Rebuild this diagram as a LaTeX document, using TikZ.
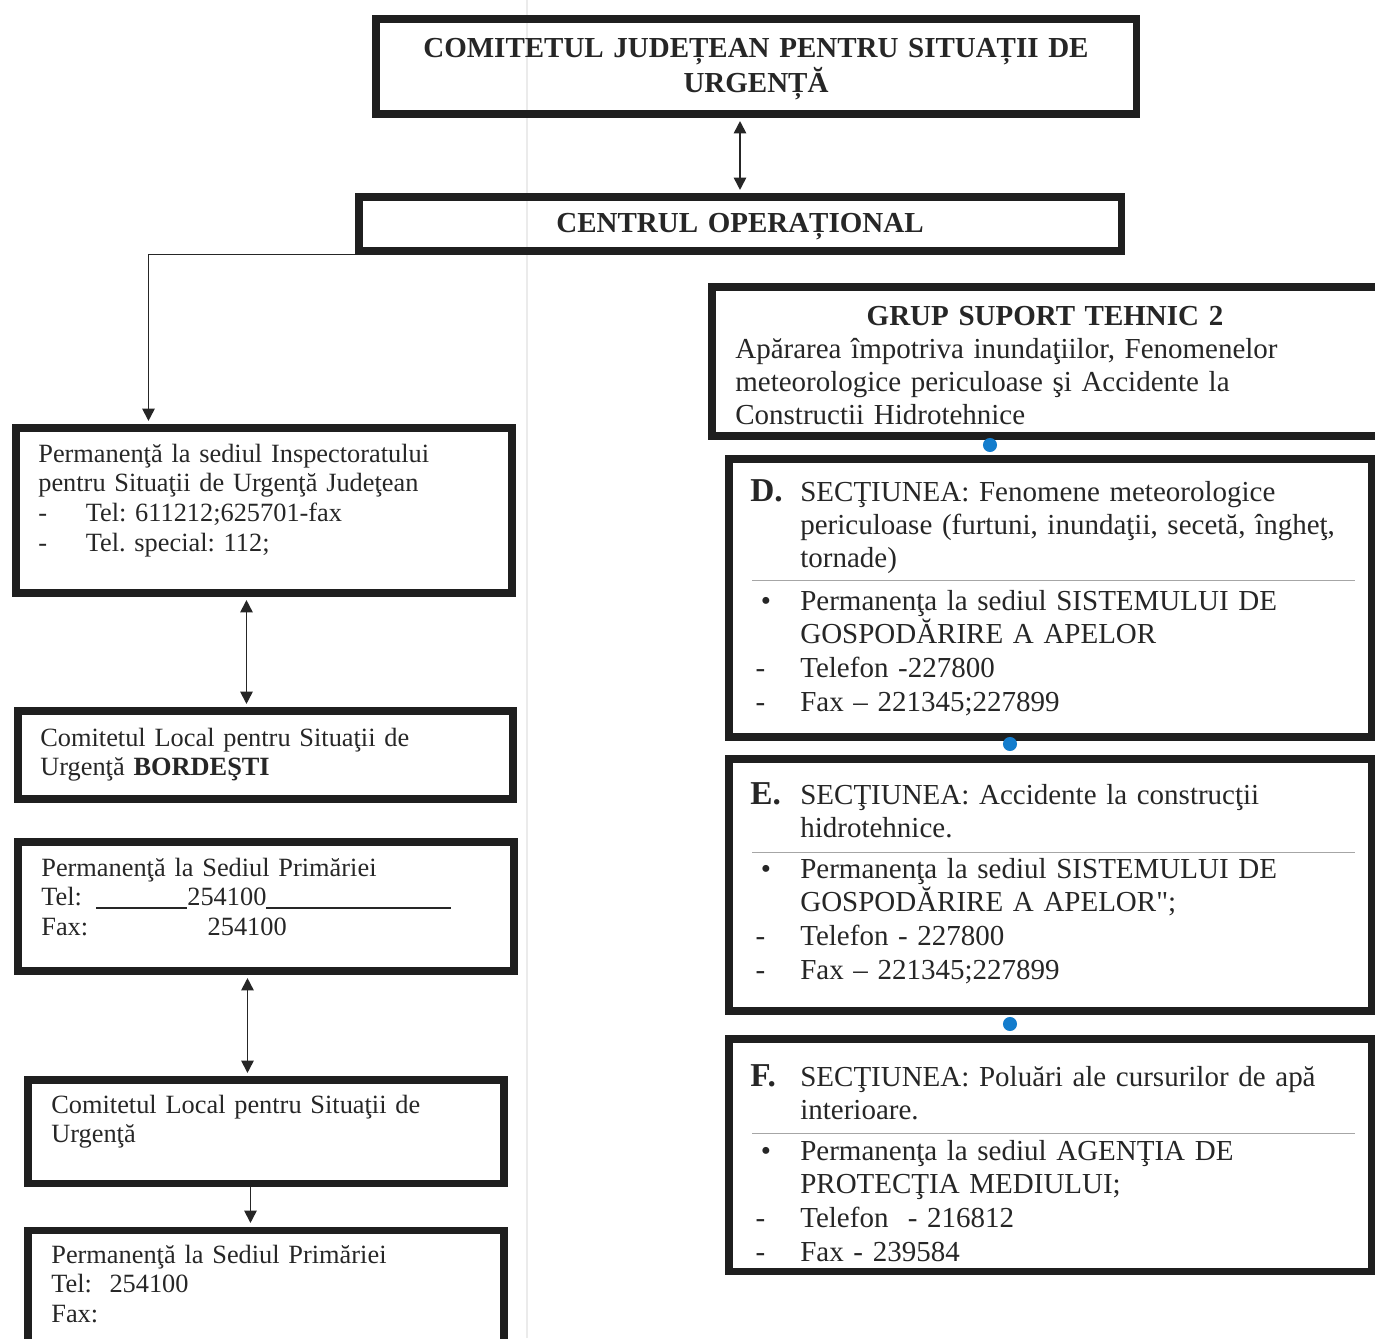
\documentclass[tikz,border=0pt]{standalone}
\usepackage{fontspec}
\setmainfont{Liberation Serif}
\frenchspacing
\usetikzlibrary{arrows.meta,fit,calc}
\definecolor{dotblue}{RGB}{20,125,205}
\newcommand{\colmark}[1]{\makebox[1cm][l]{#1}}
\newcommand{\secltr}{\fontsize{19}{18.9}\selectfont\bfseries}
\tikzset{
    box/.style={draw=black!88,line width=4pt,inner sep=0pt},
    ttl/.style={anchor=base,inner sep=0pt,text width=14cm,align=center,
        font=\fontsize{16.5}{19.8}\selectfont\bfseries,text=black!85},
    ltxt/.style={anchor=base west,inner sep=0pt,text width=9.3cm,align=left,
        font=\fontsize{15}{17}\selectfont,text=black!85},
    rtxt/.style={anchor=base west,inner sep=0pt,text width=12.4cm,align=left,
        font=\fontsize{16.5}{18.9}\selectfont,text=black!85},
    rlist/.style={rtxt,font=\fontsize{16.5}{19.3}\selectfont},
    dbl/.style={{Triangle[length=7pt,width=7pt]}-{Triangle[length=7pt,width=7pt]},
        line width=1pt,draw=black!85,shorten <=2pt,shorten >=2pt},
    arr/.style={-{Triangle[length=7pt,width=7pt]},line width=1pt,draw=black!85,shorten >=2pt},
    dot/.style={circle,fill=dotblue,inner sep=0pt,minimum size=8pt},
    rule/.style={draw=black!35,line width=0.6pt}
}
\begin{document}
\begin{tikzpicture}[x=0.02cm,y=-0.02cm]
\useasboundingbox (0,0) rectangle (1375,1338);
\clip (0,0) rectangle (1375,1338);
% fold of the scanned page
\draw[black!8,line width=1pt] (527,0) -- (527,1338);

% county committee and operational centre
\node[box,fit={(376,19) (1136,114)}] (cjsu) {};
\node[ttl] (cjsut) at (756,58) {COMITETUL JUDEȚEAN PENTRU SITUAȚII DE\\URGENȚĂ};
\node[box,fit={(359,197) (1121,251)}] (co) {};
\node[ttl] (cot) at (740,233) {CENTRUL OPERAȚIONAL};
\draw[dbl] (co.north) -- (co.north |- cjsu.south);

% left column
\node[box,fit={(16,428) (512,593)}] (pisu) {};
\node[ltxt] (pisut) at (38,462) {Permanenţă la sediul Inspectoratului\\
    pentru Situaţii de Urgenţă Judeţean\\
    \makebox[27pt][l]{-}Tel: 611212;625701-fax\\
    \makebox[27pt][l]{-}Tel. special: 112;};
\node[box,fit={(18,711) (513,799)}] (clsub) {};
\node[ltxt] (clsubt) at (40,746) {Comitetul Local pentru Situaţii de\\
    Urgenţă \textbf{BORDEŞTI}};
\node[box,fit={(18,842) (514,971)}] (psp1) {};
\node[ltxt] (psp1t) at (41,876) {Permanenţă la Sediul Primăriei\\
    Tel:\hspace{8pt}\rule[-1.5pt]{52pt}{0.6pt}254100\rule[-1.5pt]{105pt}{0.6pt}\\
    Fax:\hspace{68pt}254100};
\node[box,fit={(28,1080) (504,1183)}] (clsu) {};
\node[ltxt] (clsut) at (51,1113) {Comitetul Local pentru Situaţii de\\
    Urgenţă};
\node[box,fit={(28,1230) (504,1360)}] (psp2) {};
\node[ltxt] (psp2t) at (51,1263) {Permanenţă la Sediul Primăriei\\
    Tel:\ \ 254100\\
    Fax:};

\draw[arr] (co.south west) -| ($(pisu.north west)+(136,0)$);
\coordinate (k1) at ($(pisu.south west)+(234,0)$);
\draw[dbl] (k1) -- (k1 |- clsub.north);
\coordinate (k2) at ($(psp1.south west)+(233,0)$);
\draw[dbl] (k2) -- (k2 |- clsu.north);
\coordinate (k3) at ($(clsu.south west)+(226,0)$);
\draw[arr] (k3) -- (k3 |- psp2.north);

% right column
\node[box,fit={(712,287) (1400,436)}] (gst) {};
\node[ttl,text width=10cm,font=\fontsize{16.5}{18.9}\selectfont\bfseries] (gstt) at (1045,325) {GRUP SUPORT TEHNIC 2};
\node[rtxt] (gstb) at (735,358) {Apărarea împotriva inundaţiilor, Fenomenelor\\
    meteorologice periculoase şi Accidente la\\
    Constructii Hidrotehnice};

\node[box,fit={(729,459) (1371,737)}] (secD) {};
\node[rtxt] (secDh) at (750,501) {\colmark{\secltr D.}SECŢIUNEA: Fenomene meteorologice\\
    \hspace*{1cm}periculoase (furtuni, inundaţii, secetă, îngheţ,\\
    \hspace*{1cm}tornade)};
\draw[rule] ($(secD.north west)+(27,125)$) -- ($(secD.north east)+(-20,125)$);
\node[rlist] (secDl) at (750,610) {\colmark{\hspace{6pt}•}Permanenţa la sediul SISTEMULUI DE\\
    \hspace*{1cm}GOSPODĂRIRE A APELOR\\
    \colmark{\hspace{3pt}-}Telefon -227800\\
    \colmark{\hspace{3pt}-}Fax – 221345;227899};

\node[box,fit={(729,759) (1371,1011)}] (secE) {};
\node[rtxt] (secEh) at (750,804) {\colmark{\secltr E.}SECŢIUNEA: Accidente la construcţii\\
    \hspace*{1cm}hidrotehnice.};
\draw[rule] ($(secE.north west)+(27,97)$) -- ($(secE.north east)+(-20,97)$);
\node[rlist] (secEl) at (750,878) {\colmark{\hspace{6pt}•}Permanenţa la sediul SISTEMULUI DE\\
    \hspace*{1cm}GOSPODĂRIRE A APELOR\textquotedbl;\\
    \colmark{\hspace{3pt}-}Telefon - 227800\\
    \colmark{\hspace{3pt}-}Fax – 221345;227899};

\node[box,fit={(729,1039) (1371,1271)}] (secF) {};
\node[rtxt] (secFh) at (750,1086) {\colmark{\secltr F.}SECŢIUNEA: Poluări ale cursurilor de apă\\
    \hspace*{1cm}interioare.};
\draw[rule] ($(secF.north west)+(27,98)$) -- ($(secF.north east)+(-20,98)$);
\node[rlist] (secFl) at (750,1160) {\colmark{\hspace{6pt}•}Permanenţa la sediul AGENŢIA DE\\
    \hspace*{1cm}PROTECŢIA MEDIULUI;\\
    \colmark{\hspace{3pt}-}Telefon\ \ - 216812\\
    \colmark{\hspace{3pt}-}Fax - 239584};

% joints between the groups
\node[dot] (dgd) at (990,445) {};
\node[dot] (dde) at (1010,744) {};
\node[dot] (def) at (1010,1024) {};
\end{tikzpicture}
\end{document}
